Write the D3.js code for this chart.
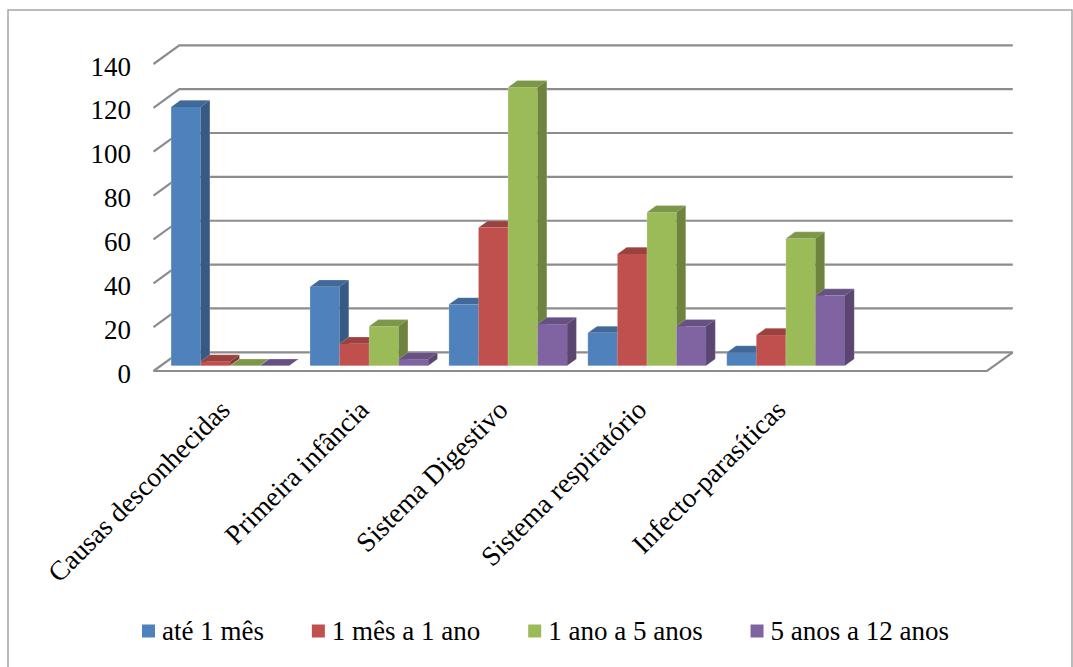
<!DOCTYPE html>
<html>
<head>
<meta charset="utf-8">
<script src="https://cdn.jsdelivr.net/npm/d3@7"></script>
<style>
  html, body { margin: 0; padding: 0; background: #fff; }
  svg { display: block; }
  text { font-family: "Liberation Serif", "Tinos", "Times New Roman", "DejaVu Serif", "Noto Serif", serif; fill: #000; }
</style>
</head>
<body>
<svg id="chart" width="1073" height="667"></svg>
<script>
// Causes of death by age group
const categories = ["Causas desconhecidas", "Primeira infância", "Sistema Digestivo", "Sistema respiratório", "Infecto-parasíticas"];
const seriesNames = ["até 1 mês", "1 mês a 1 ano", "1 ano a 5 anos", "5 anos a 12 anos"];
const ate1Mes = [118, 36, 28, 15, 6];
const mes1a1Ano = [2, 10, 63, 51, 14];
const ano1a5Anos = [0, 18, 127, 70, 58];
const anos5a12Anos = [0, 3, 19, 18, 32];
const yTicks = [0, 20, 40, 60, 80, 100, 120, 140];
const colors = ["#4F81BD", "#C0504D", "#9BBB59", "#8064A2"];

const seriesValues = [ate1Mes, mes1a1Ano, ano1a5Anos, anos5a12Anos];
const fontStack = '"Liberation Serif", "Tinos", "Times New Roman", "DejaVu Serif", "Noto Serif", serif';

const svg = d3.select("#chart");

// outer frame
svg.append("rect")
  .attr("x", 8).attr("y", 10).attr("width", 1064).attr("height", 700)
  .attr("fill", "#fff").attr("stroke", "#a6a6a6").attr("stroke-width", 1.5);

// plot geometry (front plane + oblique depth)
const left = 153.5, right = 987;
const depthX = 25.8, depthY = -18.7;
const barFront = 0.28, barDepth = 0.36;

// the category axis keeps one empty trailing slot
const slots = [...categories, ""];
const x0 = d3.scaleBand().domain(slots).range([left, right]).paddingInner(0).paddingOuter(0);
const x1 = d3.scaleBand().domain(seriesNames).range([0, x0.bandwidth()]).paddingInner(0).paddingOuter(0.35);
const y = d3.scaleLinear().domain([0, 140]).range([371, 64]);

const grid = svg.append("g");
yTicks.forEach(v => {
  const yf = y(v);
  // side wall diagonal + back wall line
  grid.append("path")
    .attr("d", `M${left},${yf}L${left + depthX},${yf + depthY}L${right + depthX},${yf + depthY}`)
    .attr("fill", "none").attr("stroke", "#8c8c8c").attr("stroke-width", 2.2);
});
// floor front edge and right edge
grid.append("path")
  .attr("d", `M${left},${y(0)}L${right},${y(0)}L${right + depthX},${y(0) + depthY}`)
  .attr("fill", "none").attr("stroke", "#8c8c8c").attr("stroke-width", 2.2);

// y axis labels
const yAxis = d3.axisLeft(y).tickValues(yTicks).tickSize(0).tickPadding(22.5);
const ya = svg.append("g").attr("transform", `translate(${left},2.5)`).call(yAxis);
ya.attr("font-family", null).attr("font-size", null);
ya.select(".domain").remove();
ya.selectAll("text")
  .style("font-family", fontStack)
  .attr("font-size", 27).attr("fill", "#000");

// 3D columns
const fx = depthX * barFront, fy = depthY * barFront;
const dx = depthX * barDepth, dy = depthY * barDepth;
const bars = svg.append("g");
categories.forEach((cat, ci) => {
  seriesNames.forEach((s, si) => {
    const v = seriesValues[si][ci];
    const bx = x0(cat) + x1(s) + fx;
    const bw = x1.bandwidth();
    const yb = y(0) + fy;
    const yt = y(v) + fy;
    const c = d3.color(colors[si]);
    const g = bars.append("g");
    // front face
    g.append("rect")
      .attr("x", bx).attr("y", yt).attr("width", bw).attr("height", yb - yt)
      .attr("fill", colors[si]);
    // top face
    g.append("path")
      .attr("d", `M${bx},${yt}L${bx + dx},${yt + dy}L${bx + bw + dx},${yt + dy}L${bx + bw},${yt}Z`)
      .attr("fill", c.darker(0.6).formatHex());
    // side face
    g.append("path")
      .attr("d", `M${bx + bw},${yt}L${bx + bw + dx},${yt + dy}L${bx + bw + dx},${yb + dy}L${bx + bw},${yb}Z`)
      .attr("fill", c.darker(1.0).formatHex());
    // light edge
    g.append("path")
      .attr("d", `M${bx},${yb}L${bx},${yt}L${bx + dx},${yt + dy}L${bx + bw + dx},${yt + dy}L${bx + bw + dx},${yb + dy}L${bx + bw},${yb}Z`)
      .attr("fill", "none").attr("stroke", "rgba(255,255,255,0.25)").attr("stroke-width", 0.8);
  });
});

// category labels, rotated
const xl = svg.append("g");
categories.forEach(cat => {
  const cx = x0(cat) + x0.bandwidth() / 2;
  xl.append("text")
    .attr("transform", `translate(${cx - 6},${397}) rotate(-45)`)
    .attr("text-anchor", "end")
    .attr("dy", "0.75em")
    .attr("font-size", 27.5)
    .style("font-family", fontStack)
    .text(cat);
});

// legend
const legend = svg.append("g");
const items = [];
seriesNames.forEach((s, i) => {
  const it = legend.append("g");
  it.append("rect").attr("x", 0).attr("y", -6.5).attr("width", 13).attr("height", 13).attr("fill", colors[i]);
  const t = it.append("text").attr("x", 20).attr("y", 0).attr("dy", "0.35em")
    .attr("font-size", 27).style("font-family", fontStack).text(s);
  items.push({ g: it, w: 20 + t.node().getComputedTextLength() });
});
const legendLeft = 142, legendRight = 949;
const gap = (legendRight - legendLeft - d3.sum(items, d => d.w)) / (items.length - 1);
let lx = legendLeft;
items.forEach(d => {
  d.g.attr("transform", `translate(${lx},631)`);
  lx += d.w + gap;
});
</script>
</body>
</html>
